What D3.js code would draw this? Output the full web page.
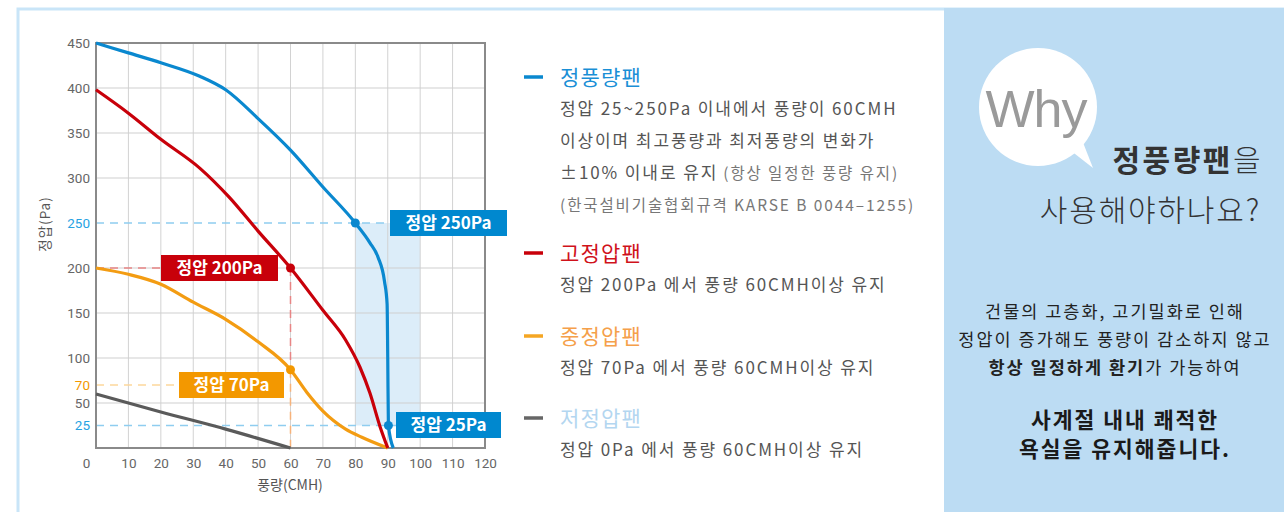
<!DOCTYPE html>
<html>
<head>
<meta charset="utf-8">
<script src="https://cdn.jsdelivr.net/npm/d3@7"></script>
<style>
  html, body { margin: 0; padding: 0; background: #fff; overflow: hidden; }
  svg { display: block; font-family: "Noto Sans CJK KR", "Noto Sans", sans-serif; }
</style>
</head>
<body>
<div id="chart"></div>
<script>
"use strict";

// fan curves, [flow (CMH), static pressure (Pa)]
var constFlowFan = [[0, 450], [10, 439], [20, 428], [32, 413], [40, 398], [50, 366], [60, 331],
    [70, 290], [80, 250], [84.5, 228], [87, 212], [89, 185], [89.8, 160], [90, 100], [90.2, 25], [91.7, 0]];
var highPressFan = [[0, 398], [10, 372], [20, 343], [32, 311], [41, 279], [50, 241], [60, 200],
    [70, 153], [77, 120], [81.4, 90], [84.5, 61], [87.6, 24], [90, 0]];
var midPressFan = [[0, 200], [10, 193], [20, 182], [30, 162], [40, 143], [50, 118], [60, 87],
    [65, 62], [70, 41], [77, 21], [82, 12], [90, 0]];
var lowPressFan = [[0, 60], [20, 40], [40, 21], [60, 0]];

var xTicks = [0, 10, 20, 30, 40, 50, 60, 70, 80, 90, 100, 110, 120];
var yTicks = [25, 50, 70, 100, 150, 200, 250, 300, 350, 400, 450];
var yGrid = [50, 100, 150, 200, 300, 350, 400];

// marked operating points
var markPoints = [
    {x: 80, y: 250, color: "#0a88cf"},
    {x: 90.2, y: 25, color: "#0a88cf"},
    {x: 60, y: 200, color: "#c8000a"},
    {x: 60, y: 87, color: "#f39800"}
];

var legendItems = [
    {name: "정풍량팬", color: "#1a8fd6", mark: "#0a88cf",
        lines: ["정압 25~250Pa 이내에서 풍량이 60CMH", "이상이며 최고풍량과 최저풍량의 변화가",
            "±10% 이내로 유지|(항상 일정한 풍량 유지)", "|(한국설비기술협회규격 KARSE B 0044–1255)"]},
    {name: "고정압팬", color: "#d0121b", mark: "#c8000a", lines: ["정압 200Pa 에서 풍량 60CMH이상 유지"]},
    {name: "중정압팬", color: "#f5a04a", mark: "#f5a623", lines: ["정압 70Pa 에서 풍량 60CMH이상 유지"]},
    {name: "저정압팬", color: "#b3d6f0", mark: "#666666", lines: ["정압 0Pa 에서 풍량 60CMH이상 유지"]}
];

var W = 1284, H = 512;
var svg = d3.select("#chart").append("svg")
        .attr("width", W)
        .attr("height", H);

//frame and right panel
svg.append("rect").attr("x", 18).attr("y", 9).attr("width", W).attr("height", H)
        .attr("fill", "#fff").attr("stroke", "#c9e5f8").attr("stroke-width", 3);
svg.append("rect").attr("x", 944).attr("y", 8).attr("width", W - 944).attr("height", H)
        .attr("fill", "#bcdcf3");

//scales
var x = d3.scaleLinear().domain([0, 120]).range([96, 485]);
var y = d3.scaleLinear().domain([0, 450]).range([448, 43]);

var plot = svg.append("g");

//highlight band for the constant flow fan
plot.append("rect")
        .attr("x", x(80)).attr("y", y(250))
        .attr("width", x(100) - x(80)).attr("height", y(25) - y(250))
        .attr("fill", "#dcedf9");

//grid
plot.selectAll(".vgrid").data(d3.range(10, 120, 10)).enter()
        .append("line").attr("class", "vgrid")
        .attr("x1", function (d) { return x(d); }).attr("x2", function (d) { return x(d); })
        .attr("y1", y(0)).attr("y2", y(450))
        .attr("stroke", "#d2d2d2").attr("stroke-width", 1);
plot.selectAll(".hgrid").data(yGrid).enter()
        .append("line").attr("class", "hgrid")
        .attr("x1", x(0)).attr("x2", x(120))
        .attr("y1", function (d) { return y(d); }).attr("y2", function (d) { return y(d); })
        .attr("stroke", "#cfcfcf").attr("stroke-width", 1);

//dashed guide lines
function dash(x1, y1, x2, y2, color) {
    plot.append("line")
            .attr("x1", x(x1)).attr("y1", y(y1)).attr("x2", x(x2)).attr("y2", y(y2))
            .attr("stroke", color).attr("stroke-width", 1.5)
            .attr("stroke-dasharray", "8,6");
}
dash(0, 250, 91, 250, "#8fcdf0");
dash(0, 25, 93, 25, "#8fcdf0");
dash(0, 200, 20, 200, "#e88585");
dash(60, 200, 60, 87, "#e88585");
dash(60, 87, 60, 0, "#f7b27a");
dash(0, 70, 25, 70, "#fdd89c");

//border
plot.append("rect")
        .attr("x", x(0)).attr("y", y(450))
        .attr("width", x(120) - x(0)).attr("height", y(0) - y(450))
        .attr("fill", "none").attr("stroke", "#8a8a8a").attr("stroke-width", 2);

//axes
var xAxis = d3.axisBottom(x).tickValues(xTicks).tickSize(0).tickPadding(8);
var gx = svg.append("g").attr("transform", "translate(0," + y(0) + ")").call(xAxis);
gx.select(".domain").remove();
gx.selectAll("text").attr("font-size", 13.5).attr("fill", "#666")
        .attr("font-family", "Roboto, 'Noto Sans CJK KR', sans-serif")
        .attr("dx", function (d) { return d === 0 ? -10 : 0; })
        .attr("dy", "0.9em");

var yAxis = d3.axisLeft(y).tickValues(yTicks).tickSize(0).tickPadding(6);
var gy = svg.append("g").attr("transform", "translate(" + x(0) + ",0)").call(yAxis);
gy.select(".domain").remove();
gy.selectAll("text").attr("font-size", 13.5)
        .attr("font-family", "Roboto, 'Noto Sans CJK KR', sans-serif")
        .attr("fill", function (d) {
            if (d === 25 || d === 250) return "#27a2e2";
            if (d === 70) return "#f39800";
            return "#666";
        });

svg.append("text").attr("transform", "translate(50,224) rotate(-90)")
        .attr("text-anchor", "middle").attr("font-size", 13.5).attr("fill", "#555")
        .attr("letter-spacing", 1)
        .text("정압(Pa)");
svg.append("text").attr("x", 290).attr("y", 490)
        .attr("text-anchor", "middle").attr("font-size", 14).attr("fill", "#555")
        .text("풍량(CMH)");

//curves
var line = d3.line()
        .x(function (d) { return x(d[0]); })
        .y(function (d) { return y(d[1]); })
        .curve(d3.curveMonotoneX);

var series = [
    {data: lowPressFan, color: "#5a5a5a"},
    {data: midPressFan, color: "#f39c12"},
    {data: highPressFan, color: "#c8000a"},
    {data: constFlowFan, color: "#0a88cf"}
];
plot.selectAll(".curve").data(series).enter()
        .append("path").attr("class", "curve")
        .attr("d", function (d) { return line(d.data); })
        .attr("fill", "none")
        .attr("stroke", function (d) { return d.color; })
        .attr("stroke-width", 3.2)
        .attr("stroke-linejoin", "round");

plot.selectAll(".dot").data(markPoints).enter()
        .append("circle").attr("class", "dot")
        .attr("cx", function (d) { return x(d.x); })
        .attr("cy", function (d) { return y(d.y); })
        .attr("r", 4.5)
        .attr("fill", function (d) { return d.color; });

//value tags
var tags = [
    {text: "정압 250Pa", x: 390, y: 210, w: 117, color: "#0088cf"},
    {text: "정압 200Pa", x: 161, y: 255, w: 117, color: "#c8000a"},
    {text: "정압 70Pa", x: 179, y: 372, w: 105, color: "#f39800"},
    {text: "정압 25Pa", x: 396, y: 412, w: 105, color: "#0088cf"}
];
var tag = svg.selectAll(".tag").data(tags).enter().append("g").attr("class", "tag");
tag.append("rect")
        .attr("x", function (d) { return d.x; }).attr("y", function (d) { return d.y; })
        .attr("width", function (d) { return d.w; }).attr("height", 26)
        .attr("fill", function (d) { return d.color; });
tag.append("text")
        .attr("x", function (d) { return d.x + d.w / 2; })
        .attr("y", function (d) { return d.y + 19; })
        .attr("text-anchor", "middle").attr("font-size", 17).attr("font-weight", "bold")
        .attr("fill", "#fff")
        .text(function (d) { return d.text; });

//legend
var legendTop = [77, 253, 336, 418];
legendItems.forEach(function (item, i) {
    var ty = legendTop[i];
    svg.append("line").attr("x1", 524).attr("x2", 543).attr("y1", ty).attr("y2", ty)
            .attr("stroke", item.mark).attr("stroke-width", 3.5);
    svg.append("text").attr("x", 560).attr("y", ty + 7.5)
            .attr("font-size", 21).attr("letter-spacing", 1.2).attr("fill", item.color)
            .text(item.name);
    item.lines.forEach(function (ln, j) {
        var parts = ln.split("|");
        var t = svg.append("text").attr("x", 560).attr("y", ty + 38 + j * 32)
                .attr("font-size", 17).attr("letter-spacing", 1.9).attr("fill", "#555");
        t.append("tspan").text(parts[0]);
        if (parts.length > 1) {
            t.append("tspan").attr("font-size", 15.5).attr("fill", "#777")
                    .attr("dx", parts[0] ? 5 : 0).text(parts[1]);
        }
    });
});

//right panel: speech bubble
var bubble = svg.append("g");
bubble.append("path")
        .attr("d", "M1070,150 L1093,168 L1082,140 Z")
        .attr("fill", "#fff");
bubble.append("circle").attr("cx", 1038).attr("cy", 107).attr("r", 59).attr("fill", "#fff");
bubble.append("text").attr("x", 1036).attr("y", 127)
        .attr("text-anchor", "middle")
        .attr("font-family", "'Liberation Sans', Arial, sans-serif")
        .attr("font-size", 52).attr("fill", "#9a9a9a").attr("letter-spacing", -1)
        .text("Why");

var q1 = svg.append("text").attr("x", 1263).attr("y", 171).attr("text-anchor", "end")
        .attr("font-size", 30).attr("letter-spacing", 2.5).attr("fill", "#333");
q1.append("tspan").attr("font-weight", "bold").text("정풍량팬");
q1.append("tspan").attr("font-weight", 300).text("을");
svg.append("text").attr("x", 1261).attr("y", 221).attr("text-anchor", "end")
        .attr("font-size", 30).attr("letter-spacing", 1.8).attr("font-weight", 300).attr("fill", "#333")
        .text("사용해야하나요?");

var body = [
    [["건물의 고층화, 고기밀화로 인해", false]],
    [["정압이 증가해도 풍량이 감소하지 않고", false]],
    [["항상 일정하게 환기", true], ["가 가능하여", false]]
];
body.forEach(function (row, i) {
    var t = svg.append("text").attr("x", 1115).attr("y", 318 + i * 28)
            .attr("text-anchor", "middle").attr("font-size", 17.5).attr("letter-spacing", 2)
            .attr("fill", "#222");
    row.forEach(function (p) {
        t.append("tspan").attr("font-weight", p[1] ? "bold" : "normal").text(p[0]);
    });
});
["사계절 내내 쾌적한", "욕실을 유지해줍니다."].forEach(function (s, i) {
    svg.append("text").attr("x", 1125).attr("y", 428 + i * 29)
            .attr("text-anchor", "middle").attr("font-size", 21.5).attr("letter-spacing", 2)
            .attr("font-weight", "bold")
            .attr("fill", "#1a1a1a")
            .text(s);
});
</script>
</body>
</html>
